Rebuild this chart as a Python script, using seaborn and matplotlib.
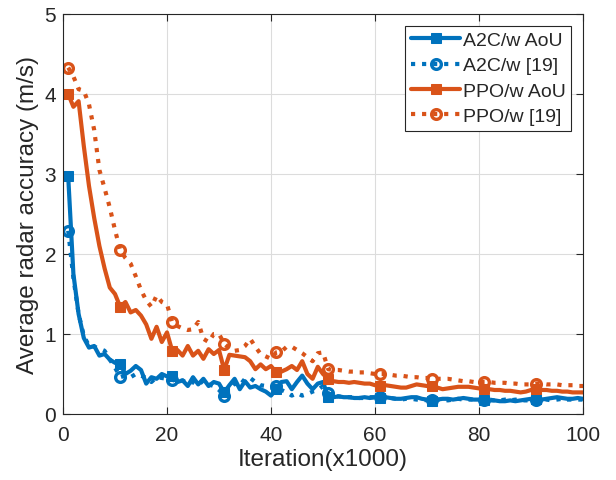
import numpy as np
import pandas as pd
import matplotlib
matplotlib.use("Agg")
import matplotlib.pyplot as plt
import seaborn as sns

iterations = list(range(1, 101))

a2c_aou = [2.97, 1.75, 1.25, 0.95, 0.83, 0.85, 0.73, 0.75, 0.68, 0.64,
           0.62, 0.50, 0.54, 0.60, 0.55, 0.38, 0.46, 0.44, 0.50, 0.47,
           0.48, 0.40, 0.42, 0.35, 0.46, 0.37, 0.44, 0.35, 0.40, 0.38,
           0.27, 0.36, 0.44, 0.31, 0.41, 0.33, 0.35, 0.31, 0.28, 0.23,
           0.31, 0.40, 0.41, 0.31, 0.40, 0.48, 0.38, 0.31, 0.38, 0.40,
           0.21, 0.21, 0.22, 0.21, 0.21, 0.20, 0.20, 0.21, 0.20, 0.21,
           0.20, 0.21, 0.20, 0.19, 0.19, 0.20, 0.21, 0.21, 0.19, 0.18,
           0.16, 0.18, 0.19, 0.19, 0.18, 0.19, 0.20, 0.19, 0.18, 0.18,
           0.18, 0.17, 0.17, 0.16, 0.16, 0.17, 0.16, 0.17, 0.18, 0.19,
           0.19, 0.18, 0.19, 0.20, 0.21, 0.20, 0.19, 0.19, 0.20, 0.19]

a2c_ref = [2.29, 1.70, 1.25, 0.98, 0.85, 0.84, 0.82, 0.79, 0.68, 0.58,
           0.46, 0.48, 0.46, 0.50, 0.48, 0.45, 0.40, 0.46, 0.45, 0.44,
           0.43, 0.40, 0.42, 0.38, 0.40, 0.36, 0.42, 0.37, 0.35, 0.30,
           0.23, 0.30, 0.38, 0.36, 0.44, 0.45, 0.40, 0.36, 0.35, 0.33,
           0.35, 0.30, 0.27, 0.23, 0.26, 0.23, 0.25, 0.28, 0.30, 0.35,
           0.26, 0.22, 0.22, 0.21, 0.21, 0.21, 0.20, 0.20, 0.21, 0.21,
           0.21, 0.20, 0.20, 0.19, 0.18, 0.19, 0.19, 0.18, 0.18, 0.17,
           0.17, 0.18, 0.18, 0.17, 0.18, 0.19, 0.18, 0.18, 0.18, 0.18,
           0.18, 0.18, 0.17, 0.17, 0.18, 0.17, 0.18, 0.17, 0.17, 0.17,
           0.17, 0.18, 0.18, 0.17, 0.18, 0.19, 0.18, 0.18, 0.18, 0.18]

ppo_aou = [4.00, 3.84, 3.91, 3.35, 2.85, 2.45, 2.10, 1.82, 1.58, 1.50,
           1.34, 1.40, 1.27, 1.30, 1.23, 1.12, 0.94, 1.09, 0.90, 1.02,
           0.79, 0.80, 0.73, 0.85, 0.73, 0.79, 0.69, 0.81, 0.75, 0.80,
           0.55, 0.74, 0.73, 0.72, 0.71, 0.66, 0.56, 0.62, 0.56, 0.60,
           0.52, 0.53, 0.56, 0.60, 0.55, 0.66, 0.50, 0.44, 0.59, 0.50,
           0.44, 0.41, 0.40, 0.40, 0.39, 0.40, 0.39, 0.38, 0.38, 0.36,
           0.35, 0.36, 0.35, 0.34, 0.33, 0.33, 0.35, 0.37, 0.36, 0.35,
           0.35, 0.33, 0.31, 0.32, 0.33, 0.34, 0.34, 0.34, 0.33, 0.32,
           0.31, 0.31, 0.30, 0.30, 0.29, 0.29, 0.28, 0.27, 0.28, 0.30,
           0.31, 0.30, 0.30, 0.29, 0.29, 0.28, 0.28, 0.27, 0.27, 0.27]

ppo_ref = [4.33, 4.22, 4.06, 4.04, 3.87, 3.55, 3.05, 2.82, 2.58, 2.30,
           2.05, 1.95, 1.88, 1.72, 1.55, 1.42, 1.34, 1.48, 1.40, 1.37,
           1.15, 1.10, 1.07, 1.05, 1.06, 1.15, 0.94, 0.90, 1.00, 1.00,
           0.88, 0.82, 0.79, 0.80, 0.85, 0.94, 0.84, 0.75, 0.72, 0.69,
           0.77, 0.78, 0.84, 0.84, 0.80, 0.76, 0.71, 0.66, 0.76, 0.77,
           0.56, 0.55, 0.55, 0.54, 0.53, 0.53, 0.52, 0.52, 0.51, 0.50,
           0.50, 0.50, 0.49, 0.48, 0.48, 0.47, 0.46, 0.46, 0.45, 0.45,
           0.44, 0.44, 0.44, 0.44, 0.43, 0.42, 0.41, 0.41, 0.40, 0.40,
           0.40, 0.40, 0.39, 0.39, 0.39, 0.38, 0.38, 0.37, 0.37, 0.37,
           0.38, 0.38, 0.37, 0.37, 0.37, 0.36, 0.36, 0.36, 0.35, 0.35]

series_names = ["A2C/w AoU", "A2C/w [19]", "PPO/w AoU", "PPO/w [19]"]
series_values = [a2c_aou, a2c_ref, ppo_aou, ppo_ref]
x_ticks = [0, 20, 40, 60, 80, 100]
y_ticks = [0, 1, 2, 3, 4, 5]

sns.set_theme(style="ticks")
plt.rcParams['font.family'] = ['Liberation Sans', 'DejaVu Sans']

blue = "#0072BD"
orange = "#D95319"
styles = [
    dict(color=blue, linestyle="-", marker="s", markersize=6.5, markerfacecolor=blue, markeredgecolor=blue),
    dict(color=blue, linestyle=":", marker="o", markersize=7, markerfacecolor="none", markeredgewidth=2.4, markeredgecolor=blue),
    dict(color=orange, linestyle="-", marker="s", markersize=6.5, markerfacecolor=orange, markeredgecolor=orange),
    dict(color=orange, linestyle=":", marker="o", markersize=7, markerfacecolor="none", markeredgewidth=2.4, markeredgecolor=orange),
]

fig = plt.figure(figsize=(6.16, 4.81), dpi=100)
ax = fig.add_axes([63/616, 66/481, 520/616, 400/481])

for name, vals, st in zip(series_names, series_values, styles):
    df = pd.DataFrame({"x": iterations, "y": vals})
    sns.lineplot(data=df, x="x", y="y", ax=ax, label=name, linewidth=3.0,
                 markevery=10, **st)

ax.set_xlim(0, 100)
ax.set_ylim(0, 5)
ax.set_xticks(x_ticks)
ax.set_yticks(y_ticks)
ax.tick_params(axis="both", direction="in", top=True, right=True,
               labelsize=15, length=5, width=0.8, colors="#262626", pad=5)
ax.tick_params(axis="x", pad=8)
ax.grid(True, color="#dcdcdc", linewidth=0.8)
ax.set_axisbelow(True)
for s in ax.spines.values():
    s.set_color("#262626")
    s.set_linewidth(0.8)
ax.set_xlabel("Iteration(x1000)", fontsize=17.5, color="#262626", labelpad=3)
ax.set_ylabel("Average radar accuracy (m/s)", fontsize=17.5, color="#262626", labelpad=4)

leg = ax.legend(loc="upper right", fontsize=14, frameon=True, fancybox=False,
                edgecolor="#262626", framealpha=1, handlelength=2.5,
                borderpad=0.3, labelspacing=0.4, handletextpad=0.15,
                borderaxespad=0.6)
leg.get_frame().set_linewidth(0.8)

fig.savefig("out.png", dpi=100)
